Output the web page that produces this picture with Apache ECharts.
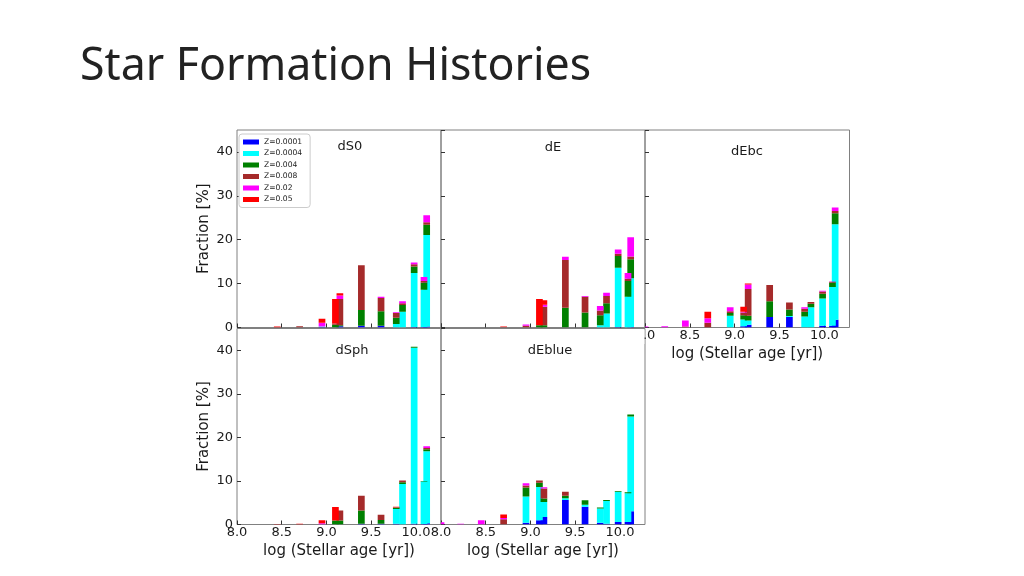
<!DOCTYPE html>
<html><head><meta charset="utf-8">
<script src="https://cdn.jsdelivr.net/npm/echarts@6/dist/echarts.min.js"></script>
<style>html,body{margin:0;padding:0;background:#fff;}#c{width:1024px;height:576px;}</style>
</head><body><div id="c"></div>
<script>
// log stellar age of each bar
const AGES = [8.00, 8.22, 8.45, 8.70, 8.95, 9.10, 9.15, 9.39, 9.61, 9.78, 9.85, 9.98, 10.09, 10.12];
const METALS = ['Z=0.0001', 'Z=0.0004', 'Z=0.004', 'Z=0.008', 'Z=0.02', 'Z=0.05'];
const X_TICKS = [8.0, 8.5, 9.0, 9.5, 10.0];
const X_TICK_LABELS = ['8.0', '8.5', '9.0', '9.5', '10.0'];
const Y_TICKS = [0, 10, 20, 30, 40];
const Y_TICK_LABELS = ['0', '10', '20', '30', '40'];

// dS0
const dS0_Z0001 = [0, 0, 0, 0, 0.1, 0, 0.3, 0.4, 0.4, 0, 0, 0.1, 0.1, 0.2];
const dS0_Z0004 = [0, 0, 0, 0, 0.1, 0, 0, 0, 0, 0.8, 3.6, 12.3, 8.5, 20.9];
const dS0_Z004  = [0, 0, 0, 0, 0, 0.6, 0.2, 3.6, 3.3, 1.4, 1.5, 1.5, 1.6, 2.3];
const dS0_Z008  = [0, 0, 0, 0.3, 0, 0.3, 6.0, 10.2, 3.0, 1.1, 0.4, 0.5, 0.4, 0.6];
const dS0_Z02   = [0, 0, 0, 0, 0.9, 0, 0.8, 0, 0.3, 0.2, 0.5, 0.4, 0.9, 1.6];
const dS0_Z05   = [0, 0, 0.2, 0, 0.9, 5.6, 0.5, 0, 0, 0, 0, 0, 0, 0];
// dE
const dE_Z0001 = [0, 0, 0, 0, 0, 0, 0, 0, 0, 0, 0, 0.1, 0, 0.1];
const dE_Z0004 = [0, 0, 0, 0, 0, 0, 0, 0, 0, 0.5, 3.2, 13.5, 7.0, 11.1];
const dE_Z004  = [0, 0, 0, 0, 0, 0.5, 0.5, 4.5, 3.4, 2.3, 2.3, 2.7, 3.6, 4.35];
const dE_Z008  = [0, 0, 0, 0.1, 0.4, 0, 4.2, 10.9, 3.6, 1.1, 1.7, 0.5, 0.5, 0.6];
const dE_Z02   = [0, 0, 0, 0, 0.3, 0, 0.5, 0.7, 0.2, 1.0, 0.7, 1.0, 1.3, 4.4];
const dE_Z05   = [0, 0, 0, 0.1, 0, 6.0, 1.0, 0, 0, 0, 0, 0, 0, 0];
// dEbc
const dEbc_Z0001 = [0, 0, 0, 0, 0, 0.3, 0.6, 2.4, 2.4, 0, 0, 0.4, 0.4, 1.75];
const dEbc_Z0004 = [0, 0, 0, 0, 2.7, 1.5, 1.0, 0, 0.2, 2.5, 4.6, 6.2, 8.8, 21.8];
const dEbc_Z004  = [0, 0, 0, 0, 0.6, 1.0, 1.1, 3.6, 1.5, 1.1, 0.8, 1.1, 1.0, 2.5];
const dEbc_Z008  = [0, 0, 0.2, 1.1, 0.4, 0.6, 6.1, 3.7, 1.6, 0.7, 0.4, 0.5, 0.2, 0.5];
const dEbc_Z02   = [0.2, 0.3, 1.4, 1.0, 0.9, 0.2, 1.0, 0, 0, 0.3, 0, 0.2, 0.1, 0.8];
const dEbc_Z05   = [0, 0, 0, 1.5, 0, 1.1, 0.2, 0, 0, 0, 0, 0, 0, 0];
// dSph
const dSph_Z0001 = [0, 0, 0, 0, 0, 0, 0, 0.2, 0.2, 0.2, 0, 0.2, 0.1, 0.3];
const dSph_Z0004 = [0, 0, 0, 0, 0, 0, 0, 0, 0, 3.35, 9.3, 40.4, 9.8, 16.5];
const dSph_Z004  = [0, 0, 0, 0, 0, 0.9, 0.9, 3.0, 0.85, 0.3, 0.4, 0.2, 0.1, 0.5];
const dSph_Z008  = [0, 0, 0, 0, 0, 0, 2.3, 3.4, 1.2, 0.1, 0.4, 0, 0, 0.25];
const dSph_Z02   = [0, 0, 0, 0, 0.3, 0, 0, 0, 0, 0, 0, 0, 0, 0.4];
const dSph_Z05   = [0, 0, 0.1, 0.15, 0.7, 3.1, 0, 0, 0, 0.1, 0, 0, 0, 0];
// dEblue
const dEblue_Z0001 = [0, 0, 0, 0, 0.4, 1.0, 1.75, 5.6, 4.05, 0.4, 0.2, 0.6, 0.6, 3.05];
const dEblue_Z0004 = [0, 0, 0, 0, 6.0, 7.6, 3.4, 0.4, 0.5, 3.3, 5.2, 6.9, 6.6, 21.75];
const dEblue_Z004  = [0, 0, 0, 0, 2.1, 1.0, 0.8, 0.6, 1.0, 0.2, 0.2, 0.2, 0.2, 0.45];
const dEblue_Z008  = [0, 0, 0, 1.2, 0.45, 0.5, 2.3, 0.9, 0, 0, 0, 0, 0, 0];
const dEblue_Z02   = [0.5, 0.2, 1.0, 0.3, 0.5, 0, 0.3, 0, 0, 0, 0, 0, 0, 0];
const dEblue_Z05   = [0, 0, 0, 0.8, 0, 0, 0, 0, 0, 0, 0, 0, 0, 0];

const PANEL_NAMES = ['dS0', 'dE', 'dEbc', 'dSph', 'dEblue'];
const PANEL_DATA = [
  [dS0_Z0001, dS0_Z0004, dS0_Z004, dS0_Z008, dS0_Z02, dS0_Z05],
  [dE_Z0001, dE_Z0004, dE_Z004, dE_Z008, dE_Z02, dE_Z05],
  [dEbc_Z0001, dEbc_Z0004, dEbc_Z004, dEbc_Z008, dEbc_Z02, dEbc_Z05],
  [dSph_Z0001, dSph_Z0004, dSph_Z004, dSph_Z008, dSph_Z02, dSph_Z05],
  [dEblue_Z0001, dEblue_Z0004, dEblue_Z004, dEblue_Z008, dEblue_Z02, dEblue_Z05]
];

// styling / layout
const COLORS = ['#0000ff', '#00ffff', '#008000', '#a52a2a', '#ff00ff', '#ff0000'];
const FONT = 'DejaVu Sans';
const TXT = '#1a1a1a';
const BAR_W = 6.7;
const GRIDS = [
  {left: 237, top: 130, width: 204, height: 197.5},
  {left: 441, top: 130, width: 204, height: 197.5},
  {left: 645, top: 130, width: 204.5, height: 197.5},
  {left: 237, top: 328.5, width: 204, height: 196},
  {left: 441, top: 328.5, width: 204, height: 196}
];
const TITLE_POS = [[350, 147], [553, 148], [747, 152], [352, 351], [550, 351]];
const SHOW_X = [false, false, true, true, true];
const SHOW_Y = [true, false, false, true, false];

function tickFmt(ticks, labels) {
  return function (v) {
    const i = ticks.findIndex(t => Math.abs(t - v) < 1e-6);
    return i >= 0 ? labels[i] : '';
  };
}

const chart = echarts.init(document.getElementById('c'), null, {renderer: 'canvas'});

const grid = GRIDS.map(g => Object.assign({show: true, borderColor: '#808080', borderWidth: 1, backgroundColor: 'transparent', containLabel: false}, g));

const xAxis = GRIDS.map((g, i) => ({
  type: 'value', gridIndex: i, min: 8, max: 10.28, interval: 0.5,
  axisLine: {show: false}, splitLine: {show: false},
  axisTick: {show: true, inside: true, length: 4, lineStyle: {color: '#333'}},
  axisLabel: {show: SHOW_X[i], margin: 2, fontSize: 13, color: TXT, fontFamily: FONT,
    formatter: tickFmt(X_TICKS, X_TICK_LABELS), showMaxLabel: false},
  name: SHOW_X[i] ? 'log (Stellar age [yr])' : '',
  nameLocation: 'middle', nameGap: 19,
  nameTextStyle: {fontSize: 15, color: TXT, fontFamily: FONT}
}));

const yAxis = GRIDS.map((g, i) => ({
  type: 'value', gridIndex: i, min: 0, max: 45, interval: 10,
  axisLine: {show: false}, splitLine: {show: false},
  axisTick: {show: true, inside: true, length: 4, lineStyle: {color: '#333'}},
  axisLabel: {show: SHOW_Y[i], margin: 4, fontSize: 13, color: TXT, fontFamily: FONT,
    formatter: tickFmt(Y_TICKS, Y_TICK_LABELS), showMaxLabel: false},
  name: SHOW_Y[i] ? 'Fraction [%]' : '',
  nameLocation: 'middle', nameGap: 25, nameRotate: 90,
  nameTextStyle: {fontSize: 15, color: TXT, fontFamily: FONT}
}));

// stacked bar segment drawn through the axis scales (api.coord)
function renderSeg(params, api) {
  const x = api.value(0), y0 = api.value(1), y1 = api.value(2);
  if (!(y1 > y0)) return null;
  const pb = api.coord([x, y0]);
  const pt = api.coord([x, y1]);
  const cs = params.coordSys;
  const rect = echarts.graphic.clipRectByRect(
    {x: pb[0] - BAR_W / 2, y: pt[1], width: BAR_W, height: pb[1] - pt[1]},
    {x: cs.x, y: cs.y, width: cs.width, height: cs.height});
  if (!rect) return null;
  return {type: 'rect', shape: rect, style: {fill: api.visual('color')}};
}

const series = [];
PANEL_DATA.forEach((panel, p) => {
  const base = AGES.map(() => 0);
  panel.forEach((vals, k) => {
    const data = AGES.map((a, j) => {
      const b = base[j];
      base[j] = b + vals[j];
      return [a, b, b + vals[j]];
    });
    series.push({
      type: 'custom', name: METALS[k], xAxisIndex: p, yAxisIndex: p,
      renderItem: renderSeg, clip: true,
      itemStyle: {color: COLORS[k]},
      encode: {x: 0, y: [1, 2]},
      emphasis: {disabled: true},
      data: data
    });
  });
});

const graphic = [
  {type: 'text', x: 80, y: 67, z: 100,
   style: {text: 'Star Formation Histories', font: '44.7px "Noto Sans"', fill: '#222', verticalAlign: 'middle', textVerticalAlign: 'middle'}},
  // dE / dEblue axes background hides the left part of dEbc's first tick label
  {type: 'rect', z: 100, shape: {x: 628, y: 330, width: 16.4, height: 14}, style: {fill: '#fff'}}
].concat(PANEL_NAMES.map((n, i) => ({
  type: 'text', x: TITLE_POS[i][0], y: TITLE_POS[i][1], z: 100,
  style: {text: n, font: '13px "DejaVu Sans"', fill: TXT, align: 'center', verticalAlign: 'middle', textAlign: 'center', textVerticalAlign: 'middle'}
})));

chart.setOption({
  animation: false,
  backgroundColor: '#fff',
  grid, xAxis, yAxis, series, graphic,
  legend: {
    show: true, selectedMode: false, orient: 'vertical',
    left: 239, top: 134,
    data: METALS.map((n, k) => ({name: n, icon: 'rect', itemStyle: {color: COLORS[k]}})),
    itemWidth: 16, itemHeight: 5, itemGap: 3.5,
    textStyle: {fontSize: 7.6, lineHeight: 8, color: '#222', fontFamily: FONT},
    padding: [4, 8, 4, 4],
    backgroundColor: '#fff', borderColor: '#cccccc', borderWidth: 1, borderRadius: 3,
    z: 20
  }
});
</script></body></html>
